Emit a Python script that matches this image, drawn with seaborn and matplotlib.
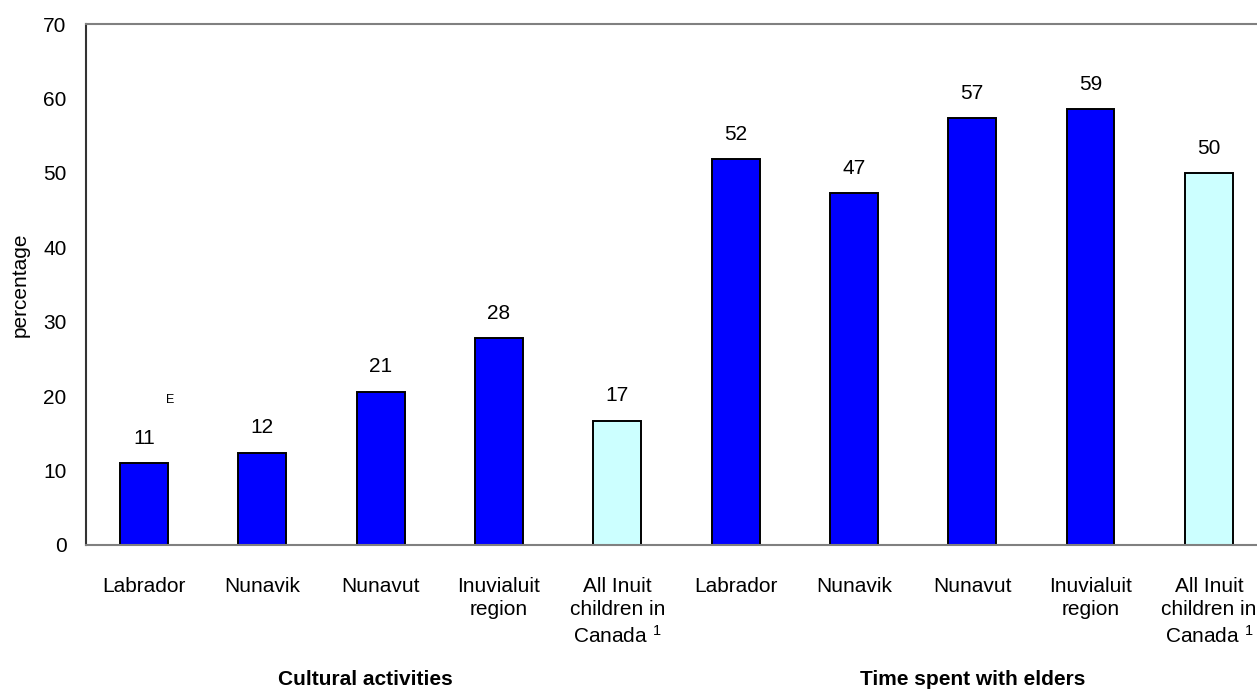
import matplotlib
matplotlib.use("Agg")
import matplotlib.pyplot as plt
import matplotlib.transforms as mtransforms
import seaborn as sns
import pandas as pd

# values
labels = ["Labrador", "Nunavik", "Nunavut", "Inuvialuit\nregion",
          "All Inuit\nchildren in\nCanada $^{1}$",
          "Labrador", "Nunavik", "Nunavut", "Inuvialuit\nregion",
          "All Inuit\nchildren in\nCanada $^{1}$"]
values = [11.0, 12.4, 20.6, 27.8, 16.7, 51.8, 47.3, 57.4, 58.6, 50.0]
kind = ["region", "region", "region", "region", "total",
        "region", "region", "region", "region", "total"]
groups = ["Cultural activities", "Time spent with elders"]
group_centers = [1.87, 7.0]

df = pd.DataFrame({"pos": [str(i) for i in range(len(values))],
                   "value": values, "kind": kind})

sns.set_style("white")
plt.rcParams["font.family"] = ["Liberation Sans", "DejaVu Sans"]
plt.rcParams["mathtext.fontset"] = "custom"
plt.rcParams["mathtext.rm"] = "Liberation Sans"
plt.rcParams["mathtext.it"] = "Liberation Sans"
plt.rcParams["text.color"] = "black"
plt.rcParams["axes.labelcolor"] = "black"
plt.rcParams["xtick.color"] = "black"
plt.rcParams["ytick.color"] = "black"

fig = plt.figure(figsize=(12.57, 6.89), dpi=100)
ax = fig.add_axes([86 / 1257, 144 / 689, 1182 / 1257, 521 / 689])

sns.barplot(data=df, x="pos", y="value", hue="kind",
            palette={"region": "#0000FF", "total": "#CCFFFF"},
            saturation=1, dodge=False, width=0.405,
            edgecolor="black", linewidth=1.4, legend=False, ax=ax)

for c in ax.containers:
    ax.bar_label(c, fmt="{:.0f}", padding=11, fontsize=15, color="black")

ax.set_xlim(-0.49, 9.5)
ax.set_ylim(0, 70)
ax.set_yticks(range(0, 71, 10))
ax.set_xticks(range(len(labels)))
ax.set_xticklabels(labels, fontsize=15, linespacing=1.3)
ax.tick_params(axis="x", length=0, pad=23)
ax.tick_params(axis="y", length=0, pad=14, labelsize=15)
ax.set_xlabel("")
ax.set_ylabel("percentage", fontsize=15, labelpad=10)

ax.spines["left"].set_color("#333333")
ax.spines["top"].set_color("#808080")
ax.spines["bottom"].set_color("#808080")
ax.spines["right"].set_color("#808080")
for s in ax.spines.values():
    s.set_linewidth(1.5)

# E flag on the first bar
ax.text(0.22, 19.5, "E", fontsize=9, ha="center", va="center")

trans = mtransforms.blended_transform_factory(ax.transData, ax.transAxes)
for g, xc in zip(groups, group_centers):
    ax.text(xc, -0.259, g, transform=trans, ha="center", va="center",
            fontsize=15, fontweight="bold", color="black")

fig.savefig("out.png", dpi=100)
